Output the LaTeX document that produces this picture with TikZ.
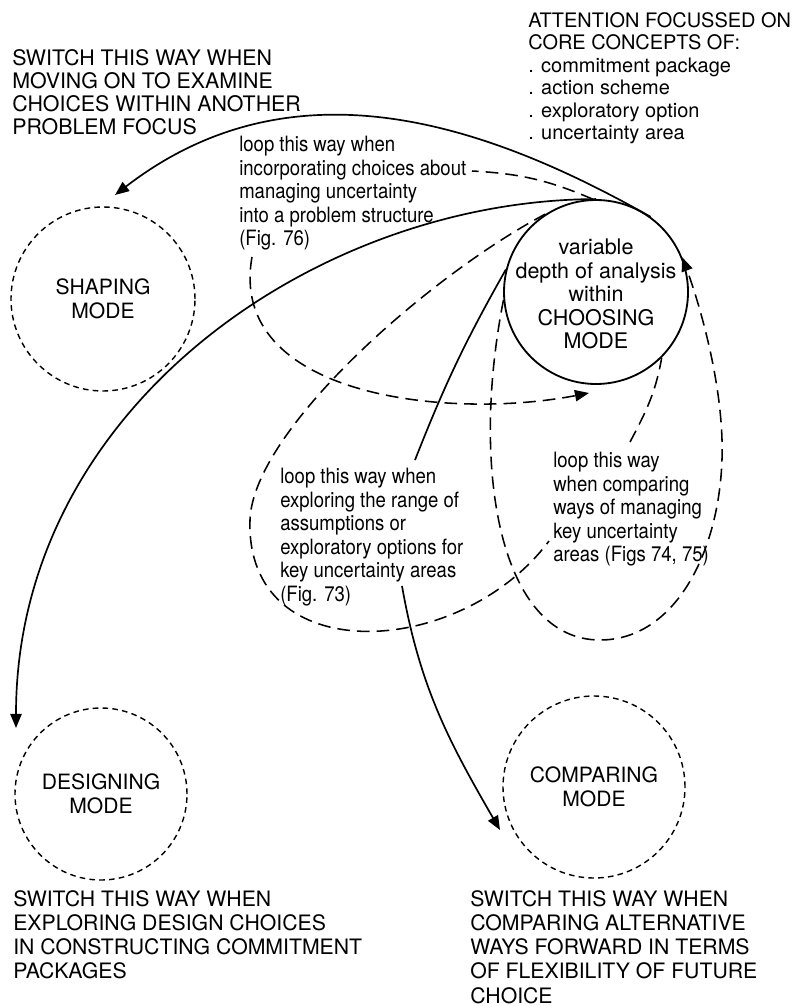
\documentclass[tikz,border=0pt]{standalone}
\usepackage{fontspec}
\setmainfont{TeX Gyre Heros}
\newfontfamily\condfont[FakeStretch=0.88]{TeX Gyre Heros}
\usetikzlibrary{arrows.meta}

\begin{document}
\begin{tikzpicture}[
  modecircle/.style={draw, circle, line width=1pt, dash pattern=on 4pt off 3pt, align=center,
    font=\fontsize{15}{17}\selectfont},
  choosecircle/.style={draw, circle, line width=1.3pt, minimum size=4.6cm},
  note/.style={anchor=north west, inner sep=0pt, align=left, font=\fontsize{15.2}{16.4}\selectfont},
  loopnote/.style={anchor=north west, inner sep=0pt, align=left, font=\condfont\fontsize{15}{16.7}\selectfont},
  switchline/.style={line width=1.2pt, -{Triangle[length=10pt,width=8pt]}},
  loopline/.style={line width=1.1pt, dash pattern=on 9pt off 5pt},
  looparrow/.style={loopline, -{Triangle[length=10pt,width=8pt]}}
]
\useasboundingbox (0,0) rectangle (20.075,-25.15);

% modes
\node[choosecircle] (choosing) at (14.9,-7.3) {};
\node[align=center, font=\fontsize{15.3}{16.7}\selectfont] (choosingtext) at (14.9,-7.35)
  {variable\\depth of analysis\\within\\CHOOSING\\MODE};
\node[modecircle, minimum size=4.6cm] (shaping) at (2.575,-7.475) {SHAPING\\MODE};
\node[modecircle, minimum size=4.3cm] (designing) at (2.525,-19.85) {DESIGNING\\MODE};
\node[modecircle, minimum size=4.55cm] (comparing) at (14.85,-19.675) {COMPARING\\MODE};

% notes
\node[note] (shapenote) at (0.3,-1.225)
  {SWITCH THIS WAY WHEN\\MOVING ON TO EXAMINE\\CHOICES WITHIN ANOTHER\\PROBLEM FOCUS};
\node[note, font=\fontsize{14.2}{16}\selectfont] (focusnote) at (13.2,-0.3)
  {ATTENTION FOCUSSED ON\\CORE CONCEPTS OF:\\. commitment package\\. action scheme\\. exploratory option\\. uncertainty area};
\node[note, font=\fontsize{15.1}{17.25}\selectfont] (designnote) at (0.325,-22.25)
  {SWITCH THIS WAY WHEN\\EXPLORING DESIGN CHOICES\\IN CONSTRUCTING COMMITMENT\\PACKAGES};
\node[note, font=\fontsize{15.1}{17.25}\selectfont] (comparenote) at (11.75,-22.25)
  {SWITCH THIS WAY WHEN\\COMPARING ALTERNATIVE\\WAYS FORWARD IN TERMS\\OF FLEXIBILITY OF FUTURE\\CHOICE};

\node[loopnote] (structnote) at (5.975,-3.4)
  {loop this way when\\incorporating choices about\\managing uncertainty\\into a problem structure\\(Fig. 76)};
\node[loopnote] (explorenote) at (7.0,-11.7)
  {loop this way when\\exploring the range of\\assumptions or\\exploratory options for\\key uncertainty areas\\(Fig. 73)};
\node[loopnote] (managenote) at (13.825,-11.3)
  {loop this way\\when comparing\\ways of managing\\key uncertainty\\areas (Figs 74, 75)};

% free ends
\coordinate (shapetip) at (2.875,-4.875);
\coordinate (designtip) at (0.4,-18.2);
\coordinate (comparetip) at (12.5,-20.75);
\coordinate (exploreabove) at (10.375,-11.5);
\coordinate (explorebelow) at (10.05,-14.65);
\coordinate (structright) at (11.8,-4.275);
\coordinate (structbelow) at (6.3,-6.425);
\coordinate (structtip) at (14.725,-9.825);
\coordinate (managein) at (13.725,-13.525);
\coordinate (manageout) at (15.75,-11.05);

% switches
\draw[switchline] (choosing.54) .. controls (12,-3) and (7.25,-1.5) .. (shapetip);
\draw[switchline] (choosing.90) .. controls (7.9,-5) and (0.4,-10.2) .. (designtip);
\draw[line width=1.2pt] (choosing.166) to[bend right=4] (exploreabove);
\draw[switchline] (explorebelow) to[out=-80, in=120] (comparetip);

% loops
\draw[loopline] (choosing.92) to[bend right=10] (structright);
\draw[looparrow] (structbelow) .. controls (5.675,-9.925) and (11.225,-10.5) .. (structtip);
\draw[loopline] (choosing.123) .. controls (10.75,-6.875) and (6.325,-10.75) .. (6.25,-13)
  .. controls (6.125,-16.75) and (11.5,-16.5) .. (managein);
\draw[loopline] (manageout) to[out=62, in=-100] (choosing.-45);
\draw[looparrow] (choosing.185) .. controls (11.75,-11.75) and (12.5,-16) .. (15,-16)
  .. controls (17,-16) and (18.125,-13.5) .. (18.05,-11)
  .. controls (18,-9.25) and (17.4,-7.35) .. (choosing.22);
\end{tikzpicture}
\end{document}
